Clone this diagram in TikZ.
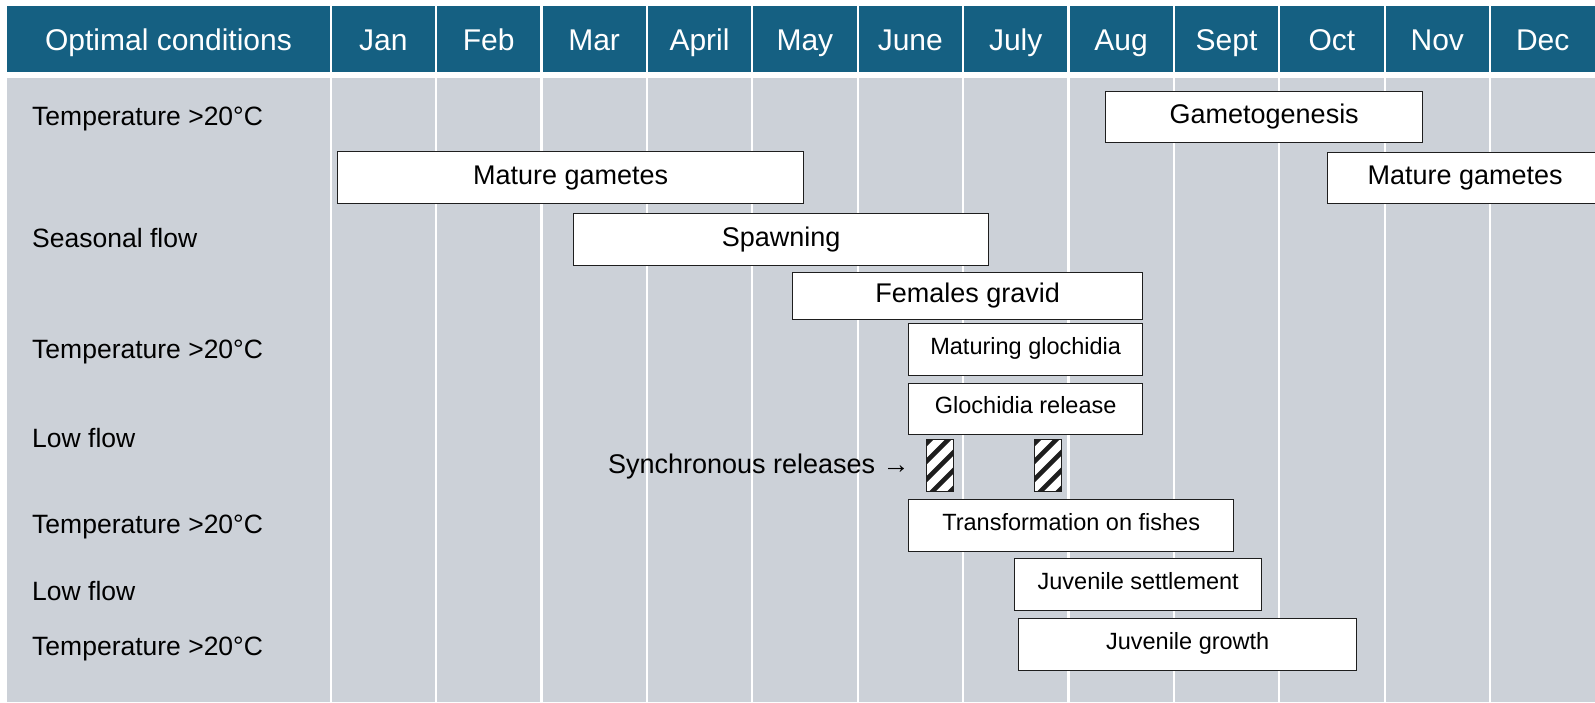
\documentclass[tikz,border=0pt]{standalone}
\usepackage{fontspec}
\setmainfont{Liberation Sans}
\usepackage{tikz}
\definecolor{headblue}{RGB}{21,96,130}
\definecolor{bodygrey}{RGB}{204,209,216}
\definecolor{edge}{RGB}{30,30,30}

\begin{document}
\begin{tikzpicture}[x=1pt, y=-1pt,
  head/.style = {text=white, anchor=base, inner sep=0, font=\fontsize{30}{34}\selectfont},
  cond/.style = {anchor=base west, inner sep=0, font=\fontsize{26.5}{30}\selectfont},
  stage/.style = {draw=edge, fill=white, line width=1.4pt, inner sep=0, anchor=north west,
    text height=19pt, text depth=6pt, font=\fontsize{27}{30}\selectfont},
  small/.style = {stage, text height=16pt, text depth=7pt, font=\fontsize{23.5}{26}\selectfont},
  hatch/.style = {draw=edge, fill=white, line width=1.4pt, inner sep=0, anchor=north west,
    minimum width=27pt, minimum height=52pt,
    path picture={\foreach \o in {-36,-18,0,18,36}
      \draw[line width=4.5pt] ([shift={(-20,20+\o)}]path picture bounding box.center) -- ++(40,-40);}}]
  \useasboundingbox (0,0) rectangle (1595,702);
  \fill[headblue] (7,6) rectangle (1595,72);
  \fill[bodygrey] (7,78) rectangle (1595,702);
  \foreach \k in {0,...,11}
    \draw[white, line width=2.2pt] ({330.6+105.4*\k},6) -- ({330.6+105.4*\k},702);

  \node[head] (h0) at (168.5,50) {Optimal conditions};
  \foreach \m [count=\i] in {Jan,Feb,Mar,April,May,June,July,Aug,Sept,Oct,Nov,Dec}
    \node[head] (m\i) at ({330.6+105.4*(\i-0.5)},50) {\m};

  \node[cond] (c1) at (32,125) {Temperature >20°C};
  \node[cond] (c2) at (32,247) {Seasonal flow};
  \node[cond] (c3) at (32,358) {Temperature >20°C};
  \node[cond] (c4) at (32,447) {Low flow};
  \node[cond] (c5) at (32,533) {Temperature >20°C};
  \node[cond] (c6) at (32,600) {Low flow};
  \node[cond] (c7) at (32,655) {Temperature >20°C};

  \node[stage, minimum width=317pt, minimum height=51pt] (gamet) at (1105,91) {Gametogenesis};
  \node[stage, minimum width=466pt, minimum height=52pt] (mature1) at (337,151) {Mature gametes};
  \node[stage, minimum width=275pt, minimum height=51pt] (mature2) at (1327,152) {Mature gametes};
  \node[stage, minimum width=415pt, minimum height=52pt] (spawn) at (573,213) {Spawning};
  \node[stage, minimum width=350pt, minimum height=47pt] (gravid) at (792,272) {Females gravid};
  \node[small, minimum width=234pt, minimum height=52pt] (matgl) at (908,323) {Maturing glochidia};
  \node[small, minimum width=234pt, minimum height=51pt] (relgl) at (908,383) {Glochidia release};
  \node[hatch] (sync1) at (926,439) {};
  \node[hatch] (sync2) at (1034,439) {};
  \node[anchor=base east, inner sep=0, font=\fontsize{27}{30}\selectfont] (synctext) at (910,473)
    {Synchronous releases →};
  \node[small, minimum width=325pt, minimum height=52pt] (transf) at (908,499) {Transformation on fishes};
  \node[small, minimum width=247pt, minimum height=52pt] (settle) at (1014,558) {Juvenile settlement};
  \node[small, minimum width=338pt, minimum height=52pt] (growth) at (1018,618) {Juvenile growth};
\end{tikzpicture}
\end{document}
